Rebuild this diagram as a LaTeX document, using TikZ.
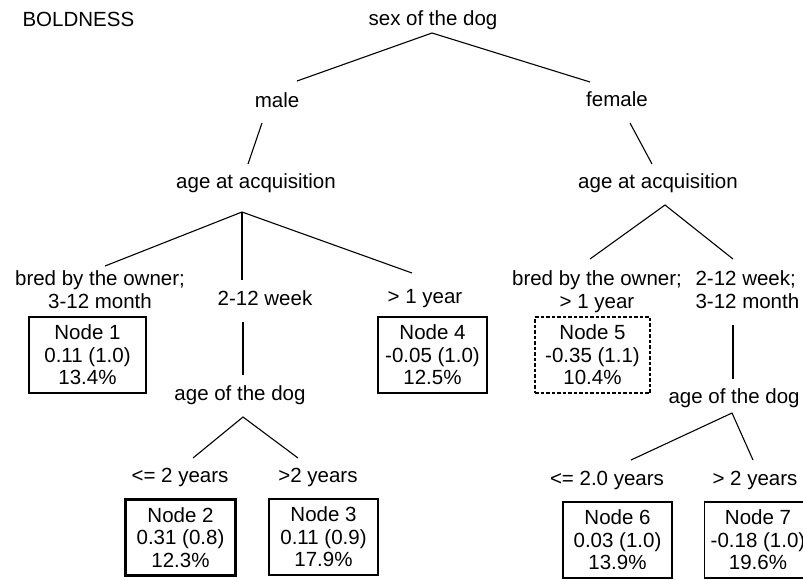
\documentclass[tikz,border=0pt]{standalone}
\usepackage{fontspec}
\setmainfont{Liberation Sans}
\newcommand{\treefont}{\fontsize{20.5}{22.5}\selectfont}
\tikzset{
    %Define style for split labels
    splitlabel/.style={
           inner sep=0pt,
           anchor=base,
           align=center,
           font=\treefont,
           },
    %Define style for terminal boxes
    leaf/.style={
           rectangle,
           draw=black, line width=1.1pt,
           minimum width=110pt,
           minimum height=76pt,
           inner sep=0pt,
           align=center,
           font=\treefont,
           },
    leafbest/.style={
           leaf,
           line width=2.8pt,
           },
    leafweak/.style={
           leaf,
           dashed,
           dash pattern=on 3.5pt off 2pt,
           },
}

\begin{document}
\begin{tikzpicture}[x=1pt,y=-1pt,line width=1.1pt]
\clip (0,0) rectangle (803,579);
\useasboundingbox (0,0) rectangle (803,579);

% labels of the tree
\node[splitlabel,anchor=base west] (title) at (22,26) {BOLDNESS};
\node[splitlabel] (sex) at (433,25) {sex of the dog};
\node[splitlabel] (male) at (277,107) {male};
\node[splitlabel] (female) at (617,106) {female};
\node[splitlabel] (acqM) at (256,188) {age at acquisition};
\node[splitlabel] (acqF) at (658,188) {age at acquisition};
\node[splitlabel,anchor=north] (bredM) at (100,270.5) {bred by the owner;\\3-12 month};
\node[splitlabel] (weekM) at (265,305) {2-12 week};
\node[splitlabel] (yearM) at (425,303) {> 1 year};
\node[splitlabel,anchor=north] (bredF) at (597,270.5) {bred by the owner;\\> 1 year};
\node[splitlabel,anchor=north west,align=left] (weekF) at (695,270.5) {2-12 week;\\3-12 month};
\node[splitlabel] (ageM) at (240,400) {age of the dog};
\node[splitlabel,anchor=base west] (ageF) at (668,403) {age of the dog};
\node[splitlabel] (le2M) at (180,482) {<= 2 years};
\node[splitlabel] (gt2M) at (318,482) {>2 years};
\node[splitlabel] (le2F) at (607,485) {<= 2.0 years};
\node[splitlabel] (gt2F) at (755,485) {> 2 years};

% terminal nodes
\node[leaf,minimum width=117pt] (n1) at (87.5,355) {Node 1\\0.11 (1.0)\\13.4\%};
\node[leafbest] (n2) at (180.5,537.5) {Node 2\\0.31 (0.8)\\12.3\%};
\node[leaf,minimum width=109pt] (n3) at (323.5,537) {Node 3\\0.11 (0.9)\\17.9\%};
\node[leaf,minimum width=109pt] (n4) at (432.5,355) {Node 4\\-0.05 (1.0)\\12.5\%};
\node[leafweak,minimum width=115pt] (n5) at (592.5,355) {Node 5\\-0.35 (1.1)\\10.4\%};
\node[leaf,minimum width=109pt] (n6) at (617.5,540) {Node 6\\0.03 (1.0)\\13.9\%};
\node[leaf,minimum width=107pt] (n7) at (758,540) {Node 7\\-0.18 (1.0)\\19.6\%};

% split points
\coordinate (sexsplit) at ([shift={(-1,8)}]sex.base);
\coordinate (acqMsplit) at ([shift={(-14,24)}]acqM.base);
\coordinate (acqFsplit) at ([shift={(7,17)}]acqF.base);
\coordinate (ageMsplit) at ([shift={(3,17)}]ageM.base);
\coordinate (ageFsplit) at ([shift={(64,10)}]ageF.base west);

% branches
\draw ([shift={(20,-26)}]male.base) -- (sexsplit) -- ([shift={(-27,-24)}]female.base);
\draw ([shift={(-15,16)}]male.base) -- ([shift={(-8,-24)}]acqM.base);
\draw ([shift={(13,17)}]female.base) -- ([shift={(-6,-24)}]acqF.base);
\draw ([shift={(5,-4.5)}]bredM.north) -- (acqMsplit) -- ([shift={(-13,-30)}]yearM.base);
\draw (acqMsplit) -- ([shift={(-23,-25)}]weekM.base);
\draw ([shift={(-22,17)}]weekM.base) -- ([shift={(3,-25)}]ageM.base);
\draw ([shift={(13,-24)}]le2M.base) -- (ageMsplit) -- ([shift={(-20,-24)}]gt2M.base);
\draw ([shift={(-7,-11.5)}]bredF.north) -- (acqFsplit) -- ([shift={(38,-11.5)}]weekF.north west);
\draw ([shift={(38,16)}]weekF.south west) -- ([shift={(65,-24)}]ageF.base west);
\draw ([shift={(24,-25)}]le2F.base) -- (ageFsplit) -- ([shift={(-2,-25)}]gt2F.base);
\end{tikzpicture}
\end{document}
